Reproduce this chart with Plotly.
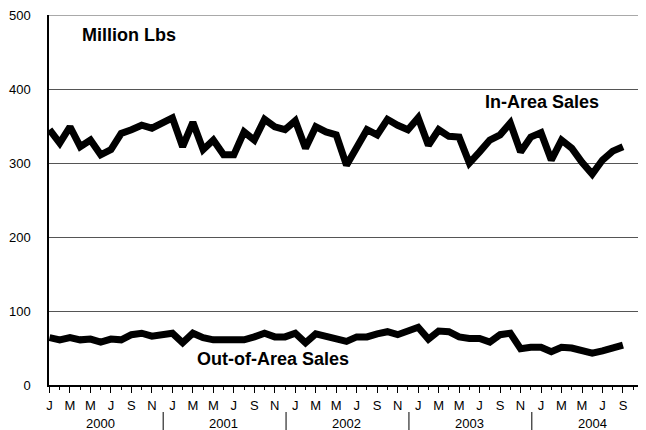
import plotly.graph_objects as go

# monthly, Jan 2000 .. Sep 2004
month_idx = list(range(57))
in_area = [345, 327, 349, 322, 331, 311, 318, 340, 345, 351, 347, 355,
           361, 322, 355, 318, 331, 311, 311, 342, 331, 359, 349, 345,
           357, 320, 349, 342, 338, 297, 322, 345, 338, 359, 351, 345,
           361, 324, 345, 336, 335, 300, 315, 331, 338, 354, 315, 335,
           341, 304, 331, 320, 301, 285, 304, 316, 322]
out_area = [64, 61, 64, 61, 62, 58, 62, 61, 68, 70, 66, 68,
            70, 57, 70, 64, 61, 61, 62, 61, 65, 70, 65, 65,
            70, 57, 69, 65, 62, 59, 65, 65, 69, 72, 68, 72,
            78, 62, 73, 72, 65, 63, 63, 58, 68, 70, 49, 51,
            51, 45, 51, 50, 47, 43, 46, 50, 54]

month_letters = ["J", "M", "M", "J", "S", "N"]
years = ["2000", "2001", "2002", "2003", "2004"]
y_ticks = [0, 100, 200, 300, 400, 500]

fig = go.Figure()
for vals in (in_area, out_area):
    fig.add_trace(go.Scatter(x=month_idx, y=vals, mode="lines",
                             line=dict(color="black", width=7),
                             showlegend=False, hoverinfo="skip"))

tick_pos = list(range(0, 60, 2))
tick_txt = [month_letters[(p % 12) // 2] for p in tick_pos]

fig.update_xaxes(
    range=[-0.05, 58.25], showgrid=False, zeroline=False, automargin=False,
    showline=True, linecolor="black", linewidth=1.5,
    tickmode="array", tickvals=tick_pos, ticktext=tick_txt,
    ticks="outside", ticklen=6, tickcolor="black", tickwidth=1,
    minor=dict(tickmode="linear", tick0=0, dtick=1, ticks="outside",
               ticklen=3, tickcolor="black"),
    ticklabelstandoff=2, ticklabeloverflow="allow",
    tickfont=dict(family="Liberation Sans, Arial", size=13, color="black"),
)
fig.update_yaxes(
    range=[0, 500], tickvals=y_ticks, showgrid=True, automargin=False,
    gridcolor="#555555", gridwidth=1, zeroline=False,
    showline=True, linecolor="black", linewidth=1.5,
    ticks="", ticklabelstandoff=14, ticklabeloverflow="allow",
    tickfont=dict(family="Liberation Sans, Arial", size=13, color="black"),
)

# top border line at 500
fig.add_shape(type="line", xref="paper", yref="y", x0=0, x1=1, y0=500, y1=500,
              line=dict(color="#555555", width=1))

for i, yr in enumerate(years):
    fig.add_annotation(x=5 + 12 * i, y=0, xref="x", yref="paper", yanchor="middle",
                       text=yr, showarrow=False, yshift=-38,
                       font=dict(family="Liberation Sans, Arial", size=13, color="black"))
for i in range(4):
    xs = 11.1 + 12 * i
    fig.add_shape(type="line", x0=xs, x1=xs, xref="x", yref="paper",
                  y0=-0.073, y1=-0.125, line=dict(color="black", width=1))

lbl_font = dict(family="Liberation Sans, Arial", size=18, color="black")
fig.add_annotation(x=7.8, y=473, text="<b>Million Lbs</b>", showarrow=False, font=lbl_font)
fig.add_annotation(x=48.1, y=382, text="<b>In-Area Sales</b>", showarrow=False, font=lbl_font)
fig.add_annotation(x=21.8, y=35, text="<b>Out-of-Area Sales</b>", showarrow=False, font=lbl_font)

# the page body adds an 8px margin, so the figure is sized to fit the window
fig.update_layout(
    width=638, height=422,
    margin=dict(l=41, r=0, t=7, b=45),
    plot_bgcolor="white", paper_bgcolor="white",
)

fig.write_html("out.html")
